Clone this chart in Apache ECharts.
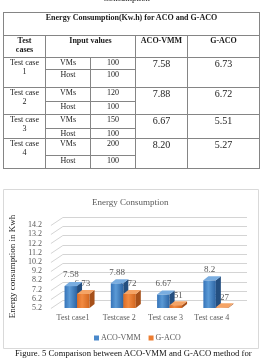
<!DOCTYPE html>
<html><head><meta charset="utf-8">
<script src="https://cdn.jsdelivr.net/npm/echarts@6.0.0/dist/echarts.min.js"></script>
<style>
html,body{margin:0;padding:0;background:#fff;}
#wrap{position:relative;width:276px;height:358px;overflow:hidden;font-family:"Liberation Serif","Times New Roman",serif;}
#chart{position:absolute;left:0;top:0;width:276px;height:358px;}
.c{position:absolute;box-sizing:border-box;border-right:1px solid #858585;border-bottom:1px solid #858585;text-align:center;color:#1a1a1a;font-size:8px;line-height:9px;white-space:nowrap;overflow:hidden;}
.frame{position:absolute;box-sizing:border-box;border-left:1px solid #858585;border-top:1px solid #858585;}
.b{font-weight:bold;}
.v{font-size:10px;line-height:11px;}
.cap{position:absolute;font-size:8.7px;line-height:10px;color:#111;white-space:nowrap;}
</style></head><body>
<div id="wrap"><div id="chart"></div></div>
<script>
// ---- data ----
const tableTitle = 'Energy Consumption(Kw.h) for ACO and G-ACO';
const tableHeaders = ['Test<br>cases', 'Input values', 'ACO-VMM', 'G-ACO'];
const tableCases = ['Test case<br>1', 'Test case<br>2', 'Test case<br>3', 'Test case<br>4'];
const vmCounts = [100, 120, 150, 200];
const hostCounts = [100, 100, 100, 100];
const categories = ['Test case1', 'Testcase 2', 'Test case 3', 'Test case 4'];
const acoVmm = [7.58, 7.88, 6.67, 8.20];
const gAco = [6.73, 6.72, 5.51, 5.27];
const yTicks = [5.2, 6.2, 7.2, 8.2, 9.2, 10.2, 11.2, 12.2, 13.2, 14.2];
const seriesNames = ['ACO-VMM', 'G-ACO'];

const SERIF = '"Liberation Serif", "Times New Roman", serif';
const wrap = document.getElementById('wrap');

function addDiv(cls, x, y, w, h, html, extra) {
  const d = document.createElement('div');
  d.className = cls;
  d.style.left = x + 'px'; d.style.top = y + 'px';
  if (w != null) d.style.width = w + 'px';
  if (h != null) d.style.height = h + 'px';
  d.innerHTML = html;
  if (extra) Object.assign(d.style, extra);
  wrap.appendChild(d);
  return d;
}
// table grid lines
const X = [3, 45, 90, 135, 187, 259];
function cell(xa, xb, ya, yb, html, cls) {
  addDiv('c ' + (cls || ''), xa + 1, ya + 1, xb - xa, yb - ya, html);
}
addDiv('frame', 3, 12, 257, 157, '');
cell(X[0], X[5], 12, 35, tableTitle, 'b');
cell(X[0], X[1], 35, 57, tableHeaders[0], 'b');
cell(X[1], X[3], 35, 57, tableHeaders[1], 'b');
cell(X[3], X[4], 35, 57, tableHeaders[2], 'b');
cell(X[4], X[5], 35, 57, tableHeaders[3], 'b');
const rowY = [[57, 69, 87], [87, 101, 114], [114, 128, 138], [138, 155, 168]];
rowY.forEach((r, i) => {
  cell(X[0], X[1], r[0], r[2], tableCases[i]);
  cell(X[1], X[2], r[0], r[1], 'VMs');
  cell(X[2], X[3], r[0], r[1], String(vmCounts[i]));
  cell(X[1], X[2], r[1], r[2], 'Host');
  cell(X[2], X[3], r[1], r[2], String(hostCounts[i]));
  cell(X[3], X[4], r[0], r[2], acoVmm[i].toFixed(2), 'v');
  cell(X[4], X[5], r[0], r[2], gAco[i].toFixed(2), 'v');
});
addDiv('cap', 103, -7, null, null, 'Consumption');
addDiv('cap', 15, 348, null, null, 'Figure. 5 Comparison between ACO-VMM and G-ACO method for');

// ---- chart ----
const chart = echarts.init(document.getElementById('chart'), null, {renderer: 'canvas'});
const palettes = [
  {legend: '#4a89cb', front: ['#3573b8', '#5b9ad6', '#2c64a3'], side: '#244f80', top: '#79ade0'},
  {legend: '#ed7d31', front: ['#dc6c25', '#f28b42', '#d2661f'], side: '#a6501a', top: '#f5a466'}
];
function barRender(s) {
  return function (params, api) {
    const i = api.value(0), v = api.value(1);
    const top = api.coord([i, v]);
    const base = api.coord([i, yTicks[0]]);
    const w = 12.5, dx = 5, dy = -4;
    const c = top[0] + 4;
    const x0 = c - w + s * w;
    const p = palettes[s];
    const zb = 10 + s * 10;
    return {type: 'group', children: [
      {type: 'rect', z2: zb, shape: {x: x0, y: top[1], width: w, height: base[1] - top[1]},
        style: {fill: new echarts.graphic.LinearGradient(0, 0, 1, 0, [
          {offset: 0, color: p.front[0]}, {offset: 0.4, color: p.front[1]}, {offset: 1, color: p.front[2]}])}},
      {type: 'polygon', z2: zb, shape: {points: [[x0 + w, top[1]], [x0 + w + dx, top[1] + dy], [x0 + w + dx, base[1] + dy], [x0 + w, base[1]]]},
        style: {fill: p.side}},
      {type: 'polygon', z2: zb, shape: {points: [[x0, top[1]], [x0 + dx, top[1] + dy], [x0 + w + dx, top[1] + dy], [x0 + w, top[1]]]},
        style: {fill: p.top}},
      {type: 'text', z2: s === 0 ? 40 : 1, x: x0 + w / 2 - s * 1, y: top[1] - (s === 0 ? 11 : 10),
        style: {text: String(v), fill: '#595959', font: '9px ' + SERIF, align: 'center', verticalAlign: 'middle', textAlign: 'center', textVerticalAlign: 'middle'}}
    ]};
  };
}
const option = {
  animation: false,
  title: {text: 'Energy Consumption', left: 92, top: 198, padding: 0,
    textStyle: {fontSize: 9, fontWeight: 'normal', color: '#595959', fontFamily: SERIF}},
  legend: {data: seriesNames, left: 89, top: 329, icon: 'rect', itemWidth: 5, itemHeight: 5, itemGap: 8,
    textStyle: {fontSize: 8, color: '#595959', fontFamily: SERIF, padding: [0, 0, 0, -3]}},
  graphic: [{type: 'rect', shape: {x: 3.5, y: 189.5, width: 255, height: 159}, style: {fill: null, stroke: '#d9d9d9', lineWidth: 1}, silent: true}],
  grid: {left: 47, top: 225, width: 188, height: 83, containLabel: false},
  xAxis: {type: 'category', data: categories, axisLine: {show: false}, axisTick: {show: false},
    axisLabel: {fontSize: 8, color: '#595959', fontFamily: SERIF, margin: 6}},
  yAxis: {type: 'value', min: yTicks[0], max: yTicks[yTicks.length - 1],
    axisLine: {show: false}, axisTick: {show: false}, splitLine: {show: false},
    axisLabel: {customValues: yTicks, formatter: v => Number(v).toFixed(1), fontSize: 8, color: '#595959', fontFamily: SERIF, margin: 8},
    name: 'Energy consumption in Kwh', nameLocation: 'middle', nameGap: 29, nameRotate: 90,
    nameTextStyle: {fontSize: 9, color: '#222', fontFamily: SERIF}},
  series: [
    {type: 'custom', name: 'walls', z: 1, silent: true, data: yTicks.map(t => [0, t]),
      renderItem: function (params, api) {
        const cs = params.coordSys;
        const y = Math.round(api.coord([0, api.value(1)])[1]) + 0.5;
        return {type: 'polyline', shape: {points: [[cs.x + 1, y], [cs.x + 13, y - 8], [cs.x + cs.width + 12, y - 8]]},
          style: {stroke: '#d4d4d4', lineWidth: 1, fill: null}};
      }},
    {type: 'custom', name: seriesNames[0], z: 2, itemStyle: {color: palettes[0].legend},
      data: acoVmm.map((v, i) => [i, v]), renderItem: barRender(0)},
    {type: 'custom', name: seriesNames[1], z: 2, itemStyle: {color: palettes[1].legend},
      data: gAco.map((v, i) => [i, v]), renderItem: barRender(1)}
  ]
};
chart.setOption(option);
</script>
</body></html>
